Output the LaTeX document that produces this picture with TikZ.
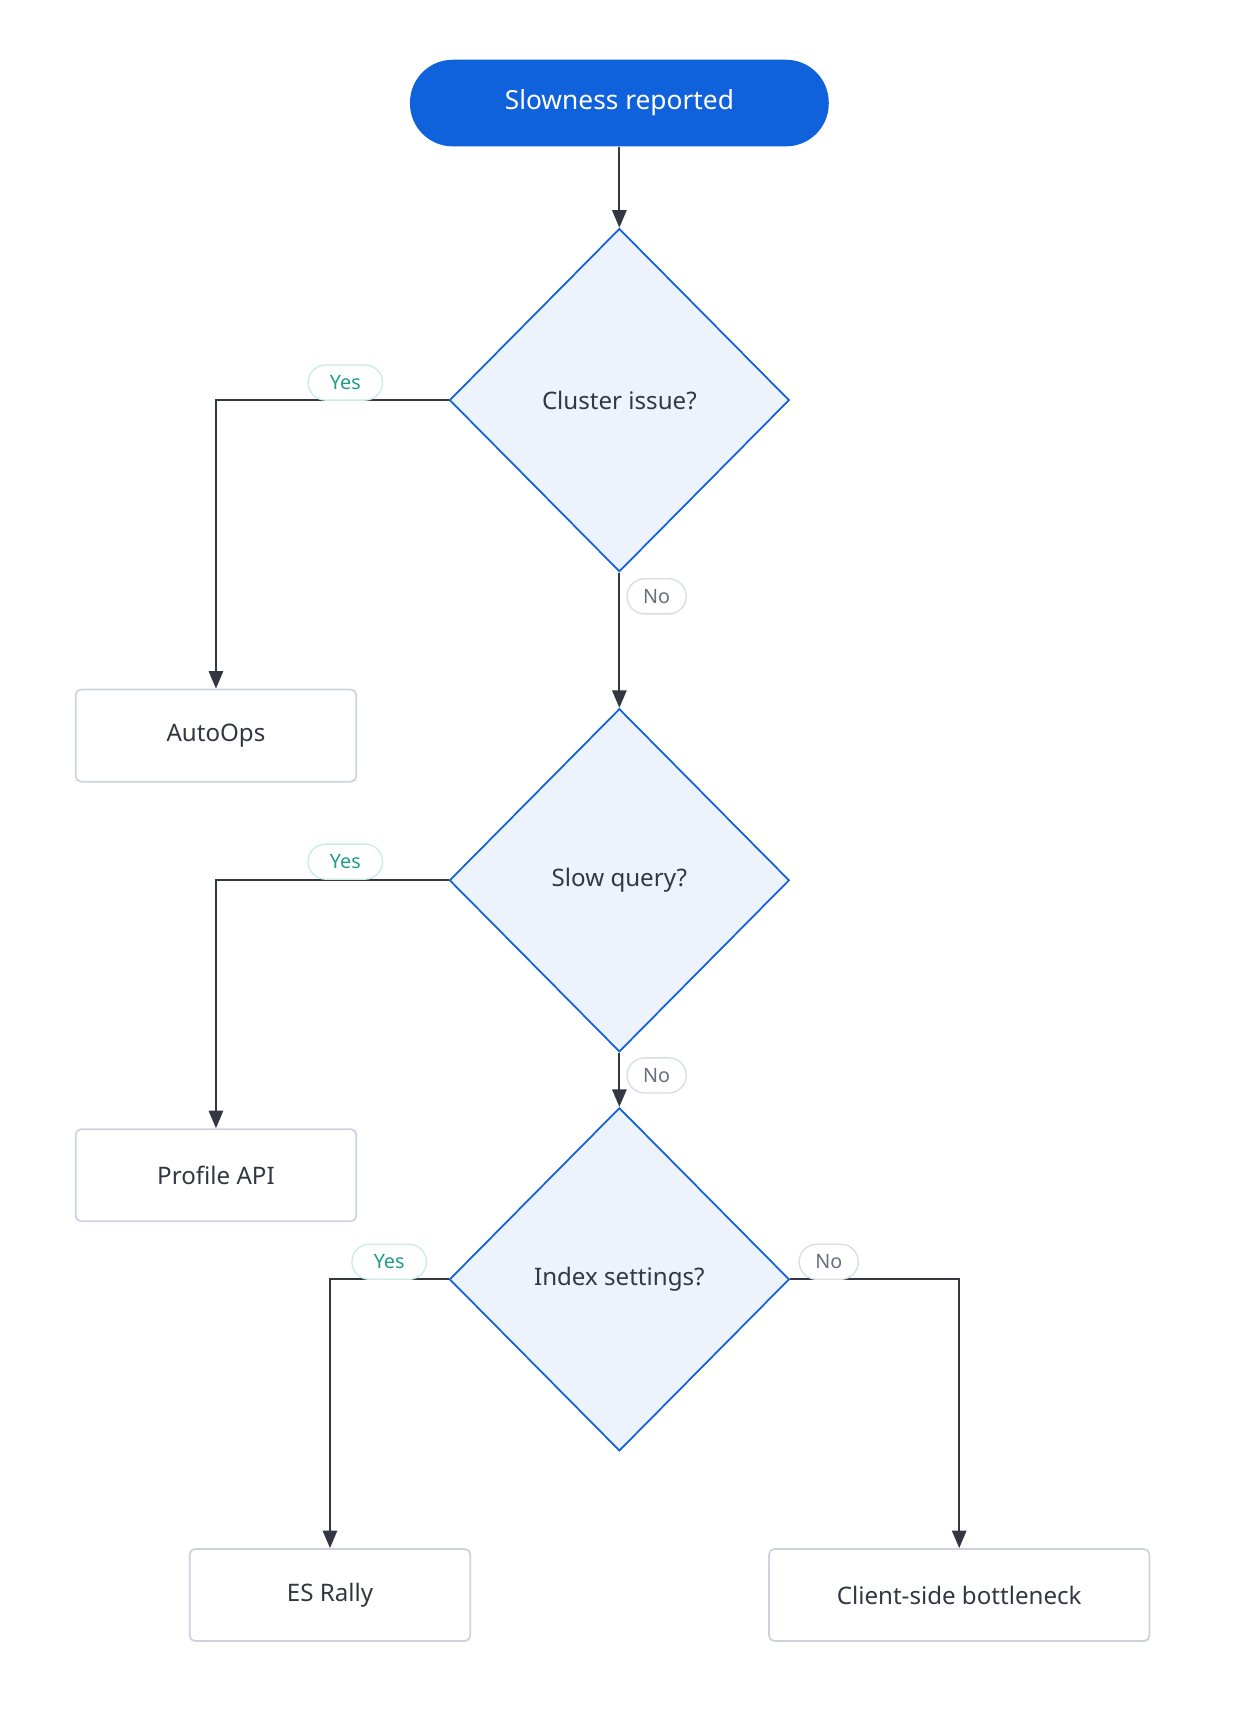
\documentclass[tikz,border=0pt]{standalone}
\usepackage{fontspec}
\setmainfont{Noto Sans}
\usetikzlibrary{shapes.geometric,arrows.meta}
\definecolor{blu}{HTML}{0F62DB}
\definecolor{dfill}{HTML}{EDF3FD}
\definecolor{line}{HTML}{343741}
\definecolor{boxb}{HTML}{CDD2DE}
\definecolor{yesc}{HTML}{1F9E87}
\definecolor{yesb}{HTML}{C9EDE3}
\definecolor{noc}{HTML}{69707D}
\definecolor{nob}{HTML}{D8DCE3}
\tikzset{
 dec/.style={diamond,draw=blu,fill=dfill,line width=1.6pt,inner sep=0pt,minimum width=310pt,minimum height=313pt,font=\fontsize{22}{26}\selectfont,text=line},
 box/.style={rectangle,rounded corners=5pt,draw=boxb,fill=white,line width=1.6pt,font=\fontsize{22}{26}\selectfont,text=line},
 arr/.style={draw=line,line width=2pt,-{Triangle[length=16pt,width=13pt]}},
 yes/.style={rounded corners=16pt,draw=yesb,fill=white,line width=1.2pt,text=yesc,font=\fontsize{18}{22}\selectfont,minimum width=68pt,minimum height=32pt,inner sep=0pt},
 no/.style={rounded corners=16pt,draw=nob,fill=white,line width=1.2pt,text=noc,font=\fontsize{18}{22}\selectfont,minimum width=54pt,minimum height=32pt,inner sep=0pt}
}
\begin{document}
\begin{tikzpicture}[x=1pt,y=-1pt]
\useasboundingbox[fill=white] (0,0) rectangle (1131,1569);
\node[rounded corners=39pt,fill=blu,text=white,minimum width=382pt,minimum height=79pt,font=\bfseries\fontsize{24}{28}\selectfont] (s) at (565,94) {Slowness reported};
\node[dec] (d1) at (565,365) {Cluster issue?};
\node[dec] (d2) at (565,803) {Slow query?};
\node[dec] (d3) at (565,1167) {Index settings?};
\node[box,minimum width=256pt,minimum height=84pt] (a) at (197,671) {AutoOps};
\node[box,minimum width=256pt,minimum height=84pt] (p) at (197,1072) {Profile API};
\node[box,minimum width=256pt,minimum height=84pt] (r) at (301,1455) {ES Rally};
\node[box,minimum width=347pt,minimum height=84pt] (c) at (875,1455) {Client-side bottleneck};
\draw[arr] (s) -- (d1);
\draw[arr] (d1.west) -| (a.north);
\draw[arr] (d1) -- (d2);
\draw[arr] (d2.west) -| (p.north);
\draw[arr] (d2) -- (d3);
\draw[arr] (d3.west) -| (r.north);
\draw[arr] (d3.east) -| (c.north);
\node[yes] (y1) at (315,349) {Yes};
\node[no] (n1) at (599,544) {No};
\node[yes] (y2) at (315,786) {Yes};
\node[no] (n2) at (599,981) {No};
\node[yes] (y3) at (355,1151) {Yes};
\node[no] (n3) at (756,1151) {No};
\end{tikzpicture}
\end{document}
